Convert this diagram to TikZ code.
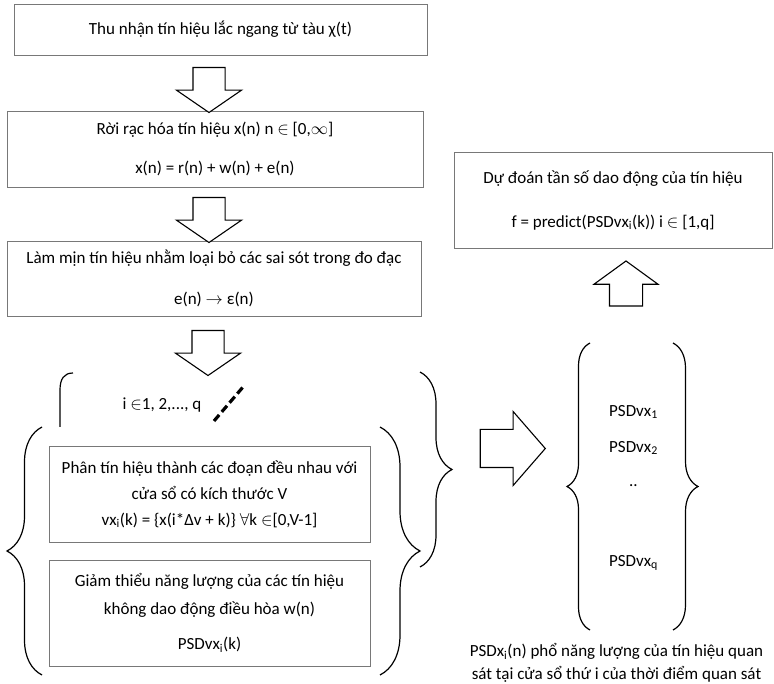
\documentclass[tikz,border=0pt]{standalone}
\usepackage{fontspec}
\setmainfont{Carlito}
\usepackage{tikz}
\usetikzlibrary{shapes.arrows,decorations.pathreplacing}
\definecolor{boxgray}{RGB}{120,120,120}

\begin{document}
\begin{tikzpicture}[x=1pt, y=-1pt, every node/.style={align=center, font=\fontsize{17}{21}\selectfont},
  stepbox/.style={draw=boxgray, line width=0.9pt, inner sep=0pt},
  bigarrow/.style={single arrow, draw, line width=1.1pt, fill=white, inner xsep=0pt, single arrow head indent=0pt},
  curly/.style={decorate, decoration={brace, amplitude=#1}, line width=1.2pt}]
\useasboundingbox (0,0) rectangle (774,684);
\node[stepbox, minimum width=413pt, minimum height=51pt] (acq) at (220.5,29.5) {Thu nhận tín hiệu lắc ngang từ tàu χ(t)};
\node[stepbox, minimum width=416pt, minimum height=76pt] (disc) at (215,149) {Rời rạc hóa tín hiệu x(n) n $\in$ [0,$\infty$]\\[18pt] x(n) = r(n) + w(n) + e(n)};
\node[stepbox, minimum width=414pt, minimum height=75pt] (smooth) at (214,278.5) {Làm mịn tín hiệu nhằm loại bỏ các sai sót trong đo đạc\\[20pt] e(n) $\rightarrow$ ε(n)};
\node[stepbox, minimum width=321pt, minimum height=96pt, font=\fontsize{17}{26}\selectfont] (split) at (209.5,494) {Phân tín hiệu thành các đoạn đều nhau với\\cửa sổ có kích thước V\\vx\textsubscript{i}(k) = \{x(i*Δv + k)\} $\forall$k $\in$[0,V-1]};
\node[stepbox, minimum width=321pt, minimum height=106pt, font=\fontsize{17}{28}\selectfont] (psd) at (209.5,613) {Giảm thiểu năng lượng của các tín hiệu\\không dao động điều hòa w(n)\\[7pt] PSDvx\textsubscript{i}(k)};
\node[stepbox, minimum width=318pt, minimum height=96pt] (pred) at (613,200) {Dự đoán tần số dao động của tín hiệu\\[23pt] f = predict(PSDvx\textsubscript{i}(k)) i $\in$ [1,q]};
\node (idx) at (162,405) {i $\in$1, 2,..., q};
\node (p1) at (633.5,412) {PSDvx\textsubscript{1}};
\node (p2) at (633.5,448) {PSDvx\textsubscript{2}};
\node (pdots) at (633.5,486) {..};
\node (pq) at (633.5,563) {PSDvx\textsubscript{q}};
\node[font=\fontsize{17}{23}\selectfont] (note) at (616.5,663) {PSDx\textsubscript{i}(n) phổ năng lượng của tín hiệu quan\\sát tại cửa sổ thứ i của thời điểm quan sát};
\node[bigarrow, rotate=-90, minimum height=45pt, inner ysep=15.5pt, single arrow head extend=16.5pt, single arrow tip angle=111] (a1) at (209,84.5) {};
\node[bigarrow, rotate=-90, minimum height=45pt, inner ysep=15.5pt, single arrow head extend=16.5pt, single arrow tip angle=111] (a2) at (209,214.5) {};
\node[bigarrow, rotate=-90, minimum height=45pt, inner ysep=15.5pt, single arrow head extend=16.5pt, single arrow tip angle=111] (a3) at (208,347.5) {};
\node[bigarrow, rotate=90, minimum height=45pt, inner ysep=16pt, single arrow head extend=15.5pt, single arrow tip angle=108] (a4) at (626,289.5) {};
\node[bigarrow, minimum height=65pt, inner ysep=18.5pt, single arrow head extend=18pt, single arrow tip angle=98] (a5) at (504.5,448.5) {};
\draw[line width=1.2pt] (73,373) .. controls (64,373) and (60,379) .. (60,390) -- (60,427);
\draw[line width=3.2pt, dash pattern=on 8pt off 4pt] (214,421) -- (243,387);
\draw[curly=32pt] (420,372) -- (420,567);
\draw[curly=35pt] (42,675) -- (42,427);
\draw[curly=40pt] (380,427) -- (380,675);
\draw[curly=23pt] (590,630) -- (590,343);
\draw[curly=25pt] (673,343) -- (673,630);
\end{tikzpicture}
\end{document}
